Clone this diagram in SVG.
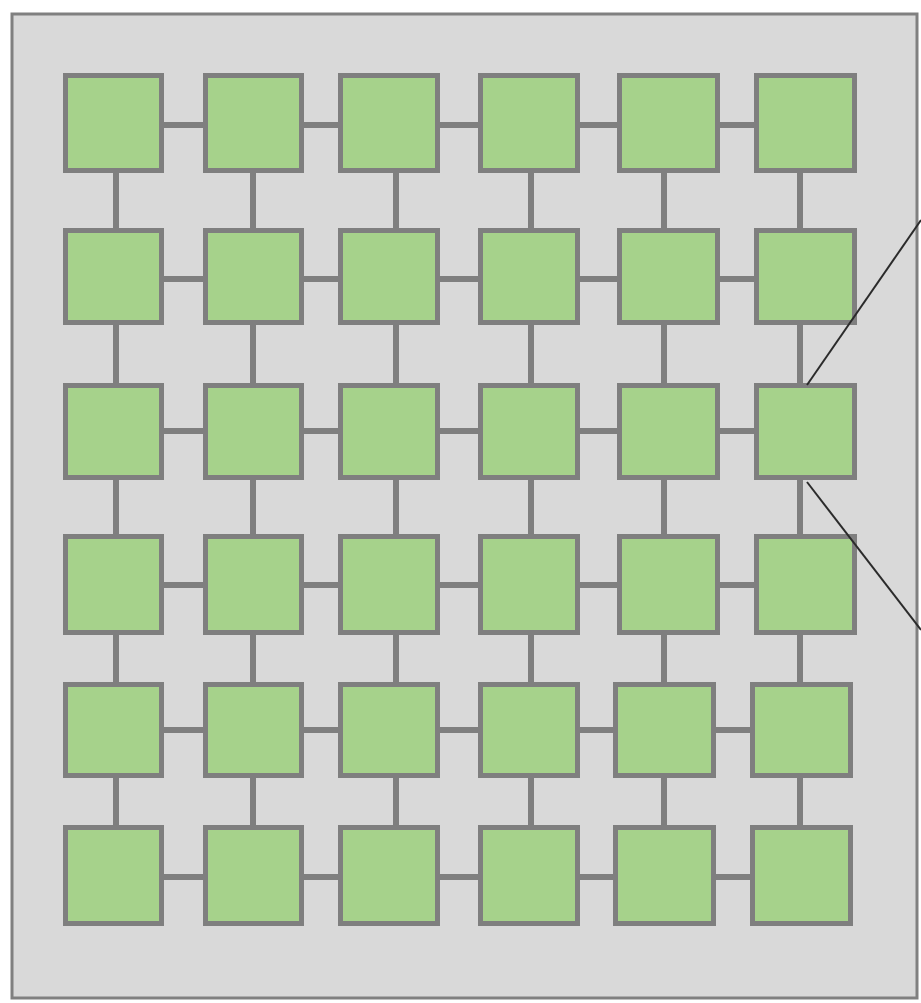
<svg xmlns="http://www.w3.org/2000/svg" width="921" height="1003" viewBox="0 0 921 1003">
<style>
.panel{fill:#d9d9d9;stroke:#808080;stroke-width:3}
.n{fill:#a6d28b;stroke:#7f7f7f;stroke-width:5}
.c{stroke:#7f7f7f;stroke-width:6;fill:none}
.z{stroke:#2b2b2b;stroke-width:2;fill:none}
</style>
<rect class="panel" x="12" y="14" width="905" height="984"/>
<g id="connectors">
<path class="c" d="M160 125H207M300 125H342M436 125H482M576 125H621M716 125H758"/>
<path class="c" d="M160 279H207M300 279H342M436 279H482M576 279H621M716 279H758"/>
<path class="c" d="M160 431H207M300 431H342M436 431H482M576 431H621M716 431H758"/>
<path class="c" d="M160 585H207M300 585H342M436 585H482M576 585H621M716 585H758"/>
<path class="c" d="M160 730H207M300 730H342M436 730H482M576 730H617M713 730H754"/>
<path class="c" d="M160 877H207M300 877H342M436 877H482M576 877H617M713 877H754"/>
<path class="c" d="M116 168V232M116 320V387M116 476V538M116 630V686M116 774V829"/>
<path class="c" d="M253 168V232M253 320V387M253 476V538M253 630V686M253 774V829"/>
<path class="c" d="M396 168V232M396 320V387M396 476V538M396 630V686M396 774V829"/>
<path class="c" d="M531 168V232M531 320V387M531 476V538M531 630V686M531 774V829"/>
<path class="c" d="M664 168V232M664 320V387M664 476V538M664 630V686M664 774V829"/>
<path class="c" d="M800 168V232M800 320V387M800 476V538M800 630V686M800 774V829"/>
</g>
<g id="r1">
<rect id="n11" class="n" x="65.5" y="75.5" width="96" height="95"/>
<rect id="n12" class="n" x="205.5" y="75.5" width="96" height="95"/>
<rect id="n13" class="n" x="340.5" y="75.5" width="97" height="95"/>
<rect id="n14" class="n" x="480.5" y="75.5" width="97" height="95"/>
<rect id="n15" class="n" x="619.5" y="75.5" width="98" height="95"/>
<rect id="n16" class="n" x="756.5" y="75.5" width="98" height="95"/>
</g>
<g id="r2">
<rect id="n21" class="n" x="65.5" y="230.5" width="96" height="92"/>
<rect id="n22" class="n" x="205.5" y="230.5" width="96" height="92"/>
<rect id="n23" class="n" x="340.5" y="230.5" width="97" height="92"/>
<rect id="n24" class="n" x="480.5" y="230.5" width="97" height="92"/>
<rect id="n25" class="n" x="619.5" y="230.5" width="98" height="92"/>
<rect id="n26" class="n" x="756.5" y="230.5" width="98" height="92"/>
</g>
<g id="r3">
<rect id="n31" class="n" x="65.5" y="385.5" width="96" height="92"/>
<rect id="n32" class="n" x="205.5" y="385.5" width="96" height="92"/>
<rect id="n33" class="n" x="340.5" y="385.5" width="97" height="92"/>
<rect id="n34" class="n" x="480.5" y="385.5" width="97" height="92"/>
<rect id="n35" class="n" x="619.5" y="385.5" width="98" height="92"/>
<rect id="n36" class="n" x="756.5" y="385.5" width="98" height="92"/>
</g>
<g id="r4">
<rect id="n41" class="n" x="65.5" y="536.5" width="96" height="96"/>
<rect id="n42" class="n" x="205.5" y="536.5" width="96" height="96"/>
<rect id="n43" class="n" x="340.5" y="536.5" width="97" height="96"/>
<rect id="n44" class="n" x="480.5" y="536.5" width="97" height="96"/>
<rect id="n45" class="n" x="619.5" y="536.5" width="98" height="96"/>
<rect id="n46" class="n" x="756.5" y="536.5" width="98" height="96"/>
</g>
<g id="r5">
<rect id="n51" class="n" x="65.5" y="684.5" width="96" height="91"/>
<rect id="n52" class="n" x="205.5" y="684.5" width="96" height="91"/>
<rect id="n53" class="n" x="340.5" y="684.5" width="97" height="91"/>
<rect id="n54" class="n" x="480.5" y="684.5" width="97" height="91"/>
<rect id="n55" class="n" x="615.5" y="684.5" width="98" height="91"/>
<rect id="n56" class="n" x="752.5" y="684.5" width="98" height="91"/>
</g>
<g id="r6">
<rect id="n61" class="n" x="65.5" y="827.5" width="96" height="96"/>
<rect id="n62" class="n" x="205.5" y="827.5" width="96" height="96"/>
<rect id="n63" class="n" x="340.5" y="827.5" width="97" height="96"/>
<rect id="n64" class="n" x="480.5" y="827.5" width="97" height="96"/>
<rect id="n65" class="n" x="615.5" y="827.5" width="98" height="96"/>
<rect id="n66" class="n" x="752.5" y="827.5" width="98" height="96"/>
</g>
<g id="zoom-lines">
<path class="z" d="M807 385L921 220"/>
<path class="z" d="M807 482L921 630"/>
</g>
</svg>
